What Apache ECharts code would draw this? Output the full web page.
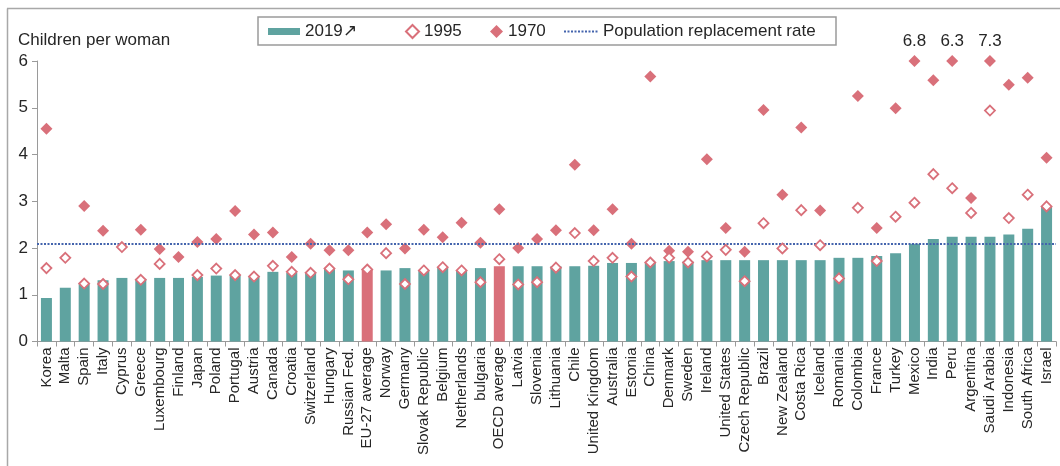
<!DOCTYPE html>
<html>
<head>
<meta charset="utf-8">
<script src="https://cdn.jsdelivr.net/npm/echarts@6/dist/echarts.min.js"></script>
<style>
  html, body { margin: 0; padding: 0; background: #fff; }
  #chart { width: 1060px; height: 466px; }
</style>
</head>
<body>
<div id="chart"></div>
<script>
const countries = ['Korea', 'Malta', 'Spain', 'Italy', 'Cyprus', 'Greece', 'Luxembourg', 'Finland', 'Japan', 'Poland',
  'Portugal', 'Austria', 'Canada', 'Croatia', 'Switzerland', 'Hungary', 'Russian Fed.', 'EU-27 average', 'Norway', 'Germany',
  'Slovak Republic', 'Belgium', 'Netherlands', 'bulgaria', 'OECD average', 'Latvia', 'Slovenia', 'Lithuania', 'Chile', 'United Kingdom',
  'Australia', 'Estonia', 'China', 'Denmark', 'Sweden', 'Ireland', 'United States', 'Czech Republic', 'Brazil', 'New Zealand',
  'Costa Rica', 'Iceland', 'Romania', 'Colombia', 'France', 'Turkey', 'Mexico', 'India', 'Peru', 'Argentina',
  'Saudi Arabia', 'Indonesia', 'South Africa', 'Israel']
const tfr2019 = [0.93, 1.15, 1.24, 1.31, 1.36, 1.34, 1.36, 1.36, 1.38, 1.41,
  1.42, 1.39, 1.49, 1.47, 1.48, 1.55, 1.52, 1.54, 1.52, 1.57,
  1.52, 1.58, 1.53, 1.57, 1.61, 1.61, 1.61, 1.61, 1.61, 1.62,
  1.68, 1.68, 1.69, 1.72, 1.71, 1.74, 1.74, 1.74, 1.74, 1.74,
  1.74, 1.74, 1.79, 1.79, 1.83, 1.89, 2.09, 2.19, 2.24, 2.24,
  2.24, 2.29, 2.41, 2.88]
const tfr1995 = [1.57, 1.79, 1.24, 1.23, 2.02, 1.32, 1.66, null, 1.42, 1.56,
  1.42, 1.39, 1.62, 1.49, 1.47, 1.56, 1.33, 1.54, 1.89, 1.23,
  1.52, 1.59, 1.52, 1.27, 1.76, 1.22, 1.27, 1.58, 2.32, 1.72,
  1.79, 1.39, 1.69, 1.79, 1.69, 1.82, 1.96, 1.29, 2.53, 1.99,
  2.81, 2.06, 1.35, 2.86, 1.72, 2.67, 2.97, 3.58, 3.28, 2.75,
  4.94, 2.64, 3.14, 2.89]
const tfr1970 = [4.55, null, 2.9, 2.37, null, 2.39, 1.98, 1.81, 2.13, 2.19,
  2.79, 2.29, 2.33, 1.81, 2.09, 1.95, 1.95, 2.33, 2.51, 1.99,
  2.39, 2.23, 2.54, 2.11, 2.83, 2.0, 2.19, 2.38, 3.78, 2.38,
  2.83, 2.09, 5.67, 1.94, 1.92, 3.9, 2.43, 1.92, 4.95, 3.14,
  4.58, 2.8, null, 5.25, 2.43, 4.99, 6.8, 5.59, 6.3, 3.07,
  7.3, 5.49, 5.64, 3.93]
const averages = ['EU-27 average', 'OECD average']
const replacementRate = 2.1
const yMax = 6

const teal = '#5fa3a0'
const rose = '#d9707a'
const blue = '#4464ad'
const fontFamily = '"Liberation Sans", Arial, sans-serif'
const textColor = '#262626'

const chart = echarts.init(document.getElementById('chart'))

const barData = tfr2019.map((v, i) => ({
  value: v,
  itemStyle: { color: averages.includes(countries[i]) ? rose : teal }
}))

// 1970 values above the axis top are drawn at the top, with the real value as a label
const data1970 = tfr1970.map(v => {
  if (v === null) return null
  if (v <= yMax) return v
  return {
    value: yMax,
    label: { show: true, position: 'top', distance: 5, formatter: String(v) }
  }
})

function legendAt(name, left, extra) {
  return Object.assign({
    data: [name],
    left: left,
    top: 23,
    padding: 0,
    selectedMode: false,
    textStyle: { fontSize: 17, color: textColor, fontFamily: fontFamily }
  }, extra)
}

chart.setOption({
  backgroundColor: '#fff',
  animation: false,
  textStyle: { fontFamily: fontFamily },
  grid: {
    left: 37,
    right: 4,
    top: 61,
    bottom: 124.5
  },
  legend: [
    legendAt('2019', 268, { icon: 'rect', itemWidth: 32, itemHeight: 7, formatter: '2019\u2197' }),
    legendAt('1995', 405, { icon: 'diamond', itemWidth: 13, itemHeight: 13, itemStyle: { color: '#fff', borderColor: rose, borderWidth: 2 } }),
    legendAt('1970', 490, { icon: 'diamond', itemWidth: 13, itemHeight: 13 }),
    legendAt('Population replacement rate', 563, {
      itemWidth: 34,
      itemHeight: 13,
      itemStyle: { color: 'rgba(0,0,0,0)', borderWidth: 0 },
      lineStyle: { color: blue, width: 2, type: [2, 1.5] }
    })
  ],
  graphic: [
    // frame
    { type: 'line', shape: { x1: 7.5, y1: 8.5, x2: 7.5, y2: 466 }, style: { stroke: '#a8a8a8', lineWidth: 1.5 }, silent: true },
    { type: 'line', shape: { x1: 7, y1: 8.5, x2: 1060, y2: 8.5 }, style: { stroke: '#a8a8a8', lineWidth: 1.5 }, silent: true },
    // legend box
    { type: 'rect', shape: { x: 258, y: 17, width: 578, height: 28 }, style: { fill: 'none', stroke: '#9a9a9a', lineWidth: 1.5 }, silent: true },
    { type: 'text', left: 18, top: 32, style: { text: 'Children per woman', fontSize: 17, fill: textColor, fontFamily: fontFamily }, silent: true }
  ],
  xAxis: {
    type: 'category',
    data: countries,
    axisLine: { lineStyle: { color: '#9a9a9a', width: 1 } },
    axisTick: { show: true, length: 5, lineStyle: { color: '#9a9a9a' } },
    axisLabel: {
      interval: 0,
      rotate: 90,
      margin: 6,
      fontSize: 15,
      color: textColor,
      fontFamily: fontFamily
    }
  },
  yAxis: {
    type: 'value',
    min: 0,
    max: yMax,
    interval: 1,
    axisLine: { show: true, lineStyle: { color: '#9a9a9a', width: 1 } },
    axisTick: { show: true, length: 5, lineStyle: { color: '#9a9a9a' } },
    splitLine: { show: false },
    axisLabel: { fontSize: 17, color: textColor, margin: 9, fontFamily: fontFamily }
  },
  series: [
    {
      name: '2019',
      type: 'bar',
      barWidth: 11,
      itemStyle: { color: teal },
      data: barData,
      z: 2
    },
    {
      name: 'Population replacement rate',
      type: 'line',
      data: [],
      symbol: 'none',
      itemStyle: { color: blue },
      lineStyle: { color: blue, width: 2, type: [2, 1.5] },
      markLine: {
        silent: true,
        symbol: 'none',
        label: { show: false },
        lineStyle: { color: blue, width: 2, type: [2, 1.5] },
        data: [{ yAxis: replacementRate }]
      },
      z: 3
    },
    {
      name: '1995',
      type: 'scatter',
      symbol: 'diamond',
      symbolSize: 10,
      itemStyle: { color: '#fff', borderColor: rose, borderWidth: 1.8, opacity: 1 },
      data: tfr1995,
      z: 5
    },
    {
      name: '1970',
      type: 'scatter',
      symbol: 'diamond',
      symbolSize: 12,
      itemStyle: { color: rose, opacity: 1 },
      label: { fontSize: 17, color: textColor, fontFamily: fontFamily },
      data: data1970,
      z: 4
    }
  ]
})
</script>
</body>
</html>
